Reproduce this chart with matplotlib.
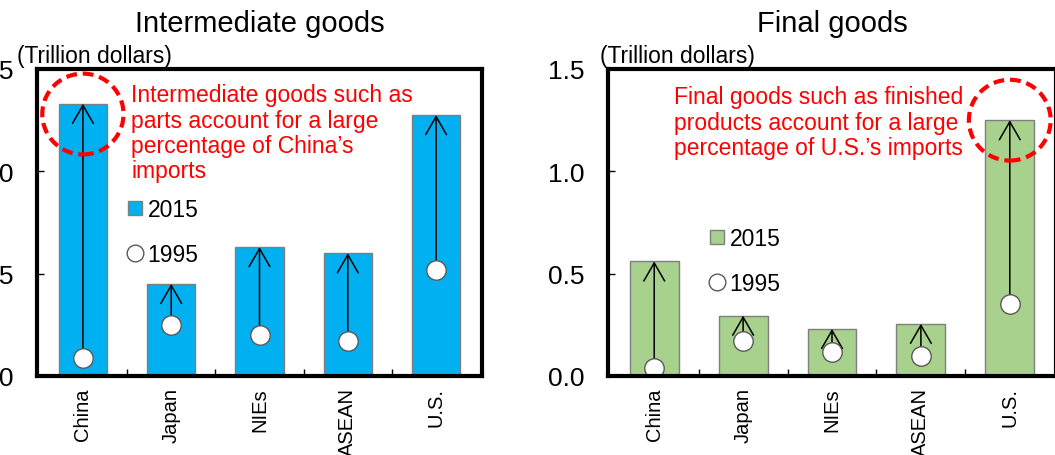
import numpy as np
import matplotlib
matplotlib.use("Agg")
import matplotlib.pyplot as plt
from matplotlib.patches import Ellipse, Patch
from matplotlib.lines import Line2D

plt.rcParams["font.family"] = ["Liberation Sans", "DejaVu Sans"]

categories = ["China", "Japan", "NIEs", "ASEAN", "U.S."]

inter_2015 = [1.33, 0.45, 0.63, 0.60, 1.275]
inter_1995 = [0.09, 0.25, 0.20, 0.17, 0.52]

final_2015 = [0.56, 0.295, 0.23, 0.255, 1.25]
final_1995 = [0.04, 0.17, 0.115, 0.10, 0.35]

yticks = [0.0, 0.5, 1.0, 1.5]

BLUE = "#00B0F0"
GREEN = "#A9D18E"
EDGE = "#7F7F7F"
RED = "#FF0000"


def draw_panel(ax, vals_new, vals_old, color, title, note, note_xy,
               ring_idx, ring_y, leg_anchor, unit_x):
    x = np.arange(len(categories))
    ax.bar(x, vals_new, width=0.55, color=color, edgecolor=EDGE,
           linewidth=1.0, zorder=2)

    for xi, top, base in zip(x, vals_new, vals_old):
        ax.annotate("", xy=(xi, top), xytext=(xi, base),
                    arrowprops=dict(arrowstyle="->,head_length=1.3,head_width=0.75",
                                    lw=1.1, color="black", shrinkA=0, shrinkB=0,
                                    mutation_scale=10),
                    zorder=3)
    ax.plot(x, vals_old, linestyle="none", marker="o", markersize=14,
            markerfacecolor="white", markeredgecolor="#595959",
            markeredgewidth=1.0, zorder=4)

    ring = Ellipse((x[ring_idx], ring_y), width=0.92, height=0.395,
                   fill=False, edgecolor=RED, linewidth=3,
                   linestyle=(0, (2.6, 1.4)), zorder=5)
    ax.add_patch(ring)

    ax.text(note_xy[0], note_xy[1], note, color=RED, fontsize=16.5,
            ha="left", va="top", linespacing=1.13, zorder=6)

    handles = [
        Patch(facecolor=color, edgecolor=EDGE, linewidth=1.0, label="2015"),
        Line2D([], [], linestyle="none", marker="o", markersize=12,
               markerfacecolor="white", markeredgecolor="#595959",
               markeredgewidth=1.0, label="1995"),
    ]
    ax.legend(handles=handles, loc="upper left", bbox_to_anchor=leg_anchor,
              frameon=False, fontsize=16.5, handlelength=0.6, handleheight=0.6,
              handletextpad=0.25, labelspacing=0.95, borderpad=0,
              borderaxespad=0)

    ax.set_xlim(-0.52, 4.52)
    ax.set_ylim(0, 1.5)
    ax.set_yticks(yticks)
    ax.set_yticklabels([f"{v:.1f}" for v in yticks])
    ax.tick_params(axis="y", direction="in", length=5, width=1,
                   labelsize=19, pad=17)
    ax.set_xticks(x)
    ax.set_xticklabels(categories, rotation=90, fontsize=14.5)
    ax.tick_params(axis="x", which="major", length=0, pad=8)
    ax.set_xticks(np.arange(len(categories) - 1) + 0.5, minor=True)
    ax.tick_params(axis="x", which="minor", direction="in", length=5, width=1)
    for sp in ax.spines.values():
        sp.set_linewidth(3)
        sp.set_color("black")
        sp.set_zorder(7)

    ax.set_title(title, fontsize=21, pad=27)
    ax.text(unit_x, 1.008, "(Trillion dollars)", transform=ax.transAxes,
            fontsize=16.5, ha="left", va="bottom")


fig = plt.figure(figsize=(10.55, 4.56), dpi=100)
ax1 = fig.add_axes([37 / 1055, 79 / 456, 445 / 1055, 307 / 456])
ax2 = fig.add_axes([608 / 1055, 79 / 456, 448 / 1055, 307 / 456])

draw_panel(ax1, inter_2015, inter_1995, BLUE, "Intermediate goods",
           "Intermediate goods such as\nparts account for a large\n"
           "percentage of China\u2019s\nimports",
           (0.55, 1.43), 0, 1.28, (0.2045, 0.580), -0.045)

draw_panel(ax2, final_2015, final_1995, GREEN, "Final goods",
           "Final goods such as finished\nproducts account for a large\n"
           "percentage of U.S.\u2019s imports",
           (0.22, 1.42), 4, 1.25, (0.2277, 0.485), -0.018)

fig.savefig("out.png", dpi=100)
